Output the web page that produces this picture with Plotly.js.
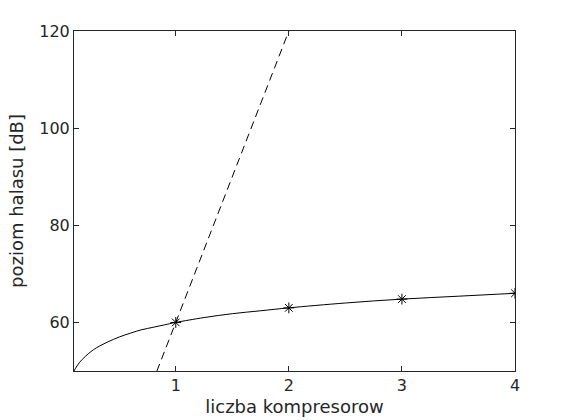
<!DOCTYPE html>
<html>
<head>
<meta charset="utf-8">
<script src="https://cdn.plot.ly/plotly-3.0.1.min.js"></script>
<style>html,body{margin:0;padding:0;background:#fff;}#chart{width:570px;height:420px;}</style>
</head>
<body>
<div id="chart"></div>
<script>
// Solid curve
const curveX = [0.1, 0.12, 0.15, 0.2, 0.25, 0.3, 0.4, 0.5, 0.6, 0.7, 0.8, 0.9, 1.0, 1.25, 1.5, 1.75, 2.0, 2.5, 3.0, 3.5, 4.0];
const curveY = [50.0, 50.8, 51.8, 53.0, 54.0, 54.8, 56.0, 57.0, 57.8, 58.5, 59.0, 59.5, 60.0, 61.0, 61.8, 62.4, 63.0, 64.0, 64.8, 65.4, 66.0];
// Asterisk markers
const markX = [1, 2, 3, 4];
const markY = [60.0, 63.0, 64.8, 66.0];
// Dashed line
const dashX = [0, 1, 2, 3];
const dashY = [0, 60, 120, 180];

const txt = '#262626';
const data = [
  {x: dashX, y: dashY, mode: 'lines', line: {color: '#000', width: 1, dash: '8px,5px'}, hoverinfo: 'skip'},
  {x: curveX, y: curveY, mode: 'lines', line: {color: '#000', width: 1, shape: 'spline'}, hoverinfo: 'skip'},
  {x: markX, y: markY, mode: 'markers', marker: {symbol: 'asterisk-open', size: 9, color: '#000', line: {color: '#000', width: 1}}, hoverinfo: 'skip'}
];
const layout = {
  width: 570, height: 420,
  margin: {l: 74, r: 55, t: 31, b: 49},
  paper_bgcolor: '#fff', plot_bgcolor: '#fff',
  showlegend: false,
  font: {family: 'DejaVu Sans, sans-serif', color: txt, size: 16},
  xaxis: {
    range: [0.1, 4], tickvals: [1, 2, 3, 4], ticktext: ['1', '2', '3', '4'],
    ticks: 'inside', ticklen: 5, tickcolor: '#262626', tickwidth: 1,
    showline: true, linecolor: '#262626', linewidth: 1, mirror: 'ticks',
    showgrid: false, zeroline: false,
    tickfont: {size: 16, color: txt},
    title: {text: 'liczba kompresorow', font: {size: 18, color: txt}, standoff: 6}
  },
  yaxis: {
    range: [50, 120], tickvals: [60, 80, 100, 120], ticktext: ['60', '80', '100', '120'],
    ticks: 'inside', ticklen: 5, tickcolor: '#262626', tickwidth: 1,
    showline: true, linecolor: '#262626', linewidth: 1, mirror: 'ticks',
    showgrid: false, zeroline: false,
    tickfont: {size: 16, color: txt},
    title: {text: 'poziom halasu [dB]', font: {size: 18, color: txt}, standoff: 10}
  }
};
Plotly.newPlot('chart', data, layout, {staticPlot: true, displayModeBar: false});
</script>
</body>
</html>
